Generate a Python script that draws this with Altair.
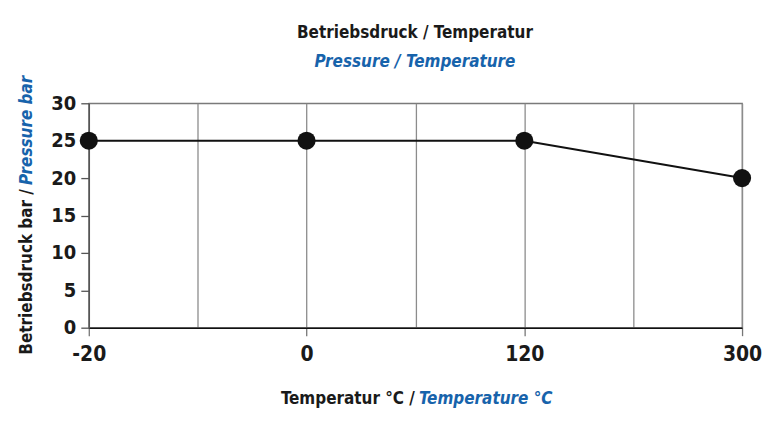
import altair as alt
import pandas as pd

temps = ["-20", "0", "120", "300"]
pressure = [25, 25, 25, 20]
y_ticks = [0, 5, 10, 15, 20, 25, 30]

title_de = "Betriebsdruck / Temperatur"
title_en = "Pressure / Temperature"
ytitle_de = "Betriebsdruck bar /"
ytitle_en = "Pressure bar"
xtitle_de = "Temperatur °C /"
xtitle_en = "Temperature °C"

BLUE = "#1763ab"
DARK = "#1a1a1a"
FONT = "DejaVu Sans Condensed"

df = pd.DataFrame({
    "temp": temps,
    "pressure": pressure,
    "pos": [2 * i for i in range(len(temps))],
})
nslots = 2 * (len(temps) - 1)
label_arr = "[" + ",".join(f"'{t}'" for t in temps) + "]"

W, H = 655, 225

x_enc = alt.X(
    "pos:Q",
    scale=alt.Scale(domain=[0, nslots], nice=False, zero=False),
    axis=alt.Axis(
        values=list(range(nslots + 1)),
        title=None,
        grid=True,
        gridColor="#8c8c8c",
        gridWidth=1.3,
        labelExpr=f"datum.value % 2 == 0 ? {label_arr}[datum.value / 2] : ''",
        tickOpacity={"condition": {"test": "datum.value % 2 == 1", "value": 0}, "value": 1},
        tickSize=8,
        tickColor="#777777",
        tickWidth=1.3,
        domainColor="#111111",
        domainWidth=1.5,
        labelFontSize=21,
        labelFontWeight="bold",
        labelFont=FONT,
        labelColor=DARK,
        labelPadding=8,
        labelFlush=False,
    ),
)
y_enc = alt.Y(
    "pressure:Q",
    scale=alt.Scale(domain=[0, 30], nice=False),
    axis=alt.Axis(
        values=y_ticks,
        title=None,
        grid=False,
        tickSize=8,
        tickColor="#555555",
        tickWidth=1.3,
        domainColor="#555555",
        domainWidth=1.5,
        labelFontSize=20,
        labelFontWeight="bold",
        labelFont=FONT,
        labelColor=DARK,
        labelPadding=5,
    ),
)

base = alt.Chart(df)
line = base.mark_line(color="#111111", strokeWidth=2).encode(x=x_enc, y=y_enc)
pts = base.mark_circle(color="#111111", size=330, opacity=1).encode(x=x_enc, y=y_enc)


def label(txt, color, italic, x, y, align, angle=0, size=18):
    return alt.Chart(alt.Data(values=[{"t": txt}])).mark_text(
        text=txt,
        color=color,
        font=FONT,
        fontSize=size,
        fontWeight="bold",
        fontStyle="italic" if italic else "normal",
        align=align,
        baseline="middle",
        angle=angle,
    ).encode(x=alt.value(x), y=alt.value(y))


t1 = label(title_de, DARK, False, 327, -70, "center", size=17)
t2 = label(title_en, BLUE, True, 327, -41, "center", size=17)
yt1 = label(ytitle_de, DARK, False, -62, 86, "right", angle=270, size=17)
yt2 = label(ytitle_en, BLUE, True, -62, 82, "left", angle=270, size=17)
xt1 = label(xtitle_de, DARK, False, 327, 297, "right", size=17)
xt2 = label(xtitle_en, BLUE, True, 331, 297, "left", size=17)

chart = alt.layer(line, pts, t1, t2, yt1, yt2, xt1, xt2).properties(
    width=W,
    height=H,
    autosize=alt.AutoSizeParams(type="none"),
    padding={"left": 81, "top": 95, "right": 20, "bottom": 85},
    background="white",
).configure_view(stroke="#7a7a7a", strokeWidth=1.3)

chart.save("out.html", embed_options={"renderer": "svg", "actions": False})
